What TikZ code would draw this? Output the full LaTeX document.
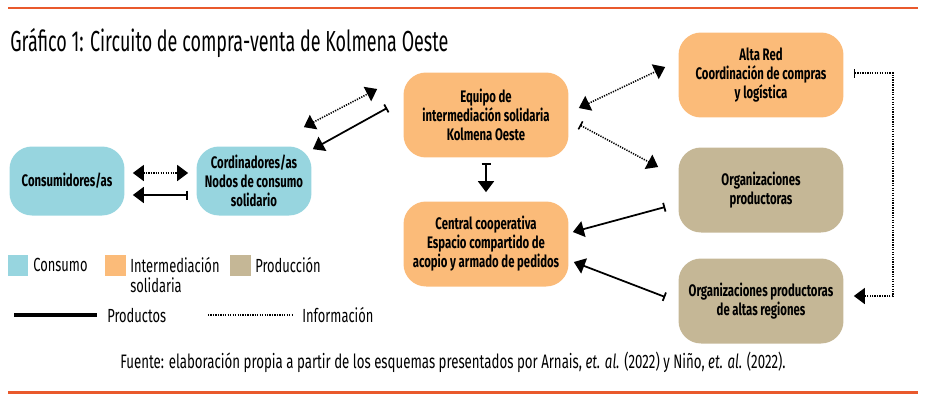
\documentclass[tikz,border=0pt]{standalone}
\usepackage{fontspec}
\setmainfont[FakeStretch=0.68]{Fira Sans}
\newfontfamily\titulofont[FakeStretch=0.62]{Fira Sans}
\usetikzlibrary{positioning,arrows.meta}

\definecolor{consumo}{HTML}{97D5DF}
\definecolor{intermed}{HTML}{FBBB79}
\definecolor{produc}{HTML}{C5B796}
\definecolor{raya}{HTML}{E9592C}

\tikzset{
	caja/.style={rounded corners=4.5mm,align=center,inner sep=2pt,
		font=\fontsize{9.5}{10.8}\selectfont\bfseries},
	chica/.style={caja,minimum width=2.3cm,minimum height=1.38cm},
	grande/.style={caja,minimum width=3.3cm,minimum height=1.7cm},
	punta/.tip={Triangle[length=2.2mm,width=3.2mm]},
	tope/.tip={Bar[width=1.8mm]},
	prod/.style={line width=1pt},
	info/.style={line width=0.9pt,dash pattern=on 0.7pt off 0.7pt},
	leyenda/.style={anchor=west,inner sep=0pt,font=\fontsize{10.8}{11.3}\selectfont},
}

\begin{document}
\begin{tikzpicture}[x=0.02cm,y=-0.02cm]
	\useasboundingbox (0,0) rectangle (926,400);

	\draw[raya,line width=1.7pt]	(8,8)	--	(918,8);
	\draw[raya,line width=1.7pt]	(8,392)	--	(918,392);

	\node[anchor=west,inner sep=0pt,font=\titulofont\fontsize{16.5}{18}\selectfont]	(titulo)	at (10,43)	{Gráfico 1: Circuito de compra-venta de Kolmena Oeste};

	\node[chica,fill=consumo]	(cons)		at (67,181)		{Consumidores/as};
	\node[chica,fill=consumo]	(cord)		at (254,181)	{Cordinadores/as\\Nodos de consumo\\solidario};
	\node[grande,fill=intermed]	(equipo)	at (486,115)	{Equipo de\\intermediación solidaria\\Kolmena Oeste};
	\node[grande,fill=intermed]	(central)	at (486,244)	{Central cooperativa\\Espacio compartido de\\acopio y armado de pedidos};
	\node[grande,fill=intermed]	(alta)		at (761,75)		{Alta Red\\Coordinación de compras\\y logística};
	\node[grande,fill=produc]	(org)		at (761,190)	{Organizaciones\\productoras};
	\node[grande,fill=produc]	(altas)		at (761,301)	{Organizaciones productoras\\de altas regiones};

	% consumo
	\draw[info,punta-punta]	([shift={(8,-8)}]cons.east)		--	([shift={(-8,-8)}]cord.west);
	\draw[prod,tope-punta]	([shift={(-8,14)}]cord.west)	--	([shift={(8,14)}]cons.east);

	% intermediacion
	\draw[info,punta-punta]	([shift={(-8,-19)}]cord.north east)	--	([shift={(-26,-26)}]equipo.west);
	\draw[prod,tope-punta]	([shift={(-16,-7)}]equipo.west)		--	([shift={(1,3)}]cord.north east);
	\draw[info,punta-punta]	([shift={(10,-7)}]equipo.east)		--	([shift={(-13,-8)}]alta.west);
	\draw[info,tope-punta]	([shift={(11,10)}]equipo.east)		--	([shift={(-20,-23)}]org.west);
	\draw[prod,tope-punta]	([shift={(0,5)}]equipo.south)		--	([shift={(0,-9)}]central.north);

	% produccion
	\draw[prod,tope-punta]	([shift={(-13,17)}]org.west)	--	([shift={(4,-12)}]central.east);
	\draw[prod,tope-punta]	([shift={(-13,-4)}]altas.west)	--	([shift={(5,18)}]central.east);
	\draw[info,tope-punta]	([shift={(10,-2)}]alta.east)	--	++(39,0)	|-	([shift={(10,-5)}]altas.east);

	% leyenda
	\fill[consumo]	(8,255)		rectangle	(28,276);
	\fill[intermed]	(105,255)	rectangle	(126,276);
	\fill[produc]	(230,255)	rectangle	(251,276);
	\node[leyenda]				(lcons)		at (33,265)		{Consumo};
	\node[leyenda,anchor=north west,align=left]	(linter)	at (130,257)	{Intermediación\\solidaria};
	\node[leyenda]				(lprod)		at (255,265)	{Producción};
	\draw[line width=2.2pt]		(14,315)	--	(97,315);
	\draw[info]					(208,315)	--	(293,315);
	\node[leyenda]				(lproductos)	at (107,315)	{Productos};
	\node[leyenda]				(linfo)		at (302,315)	{Información};

	\node[font=\fontsize{11.1}{13}\selectfont,inner sep=0pt]	(fuente)	at (453,362)
		{Fuente: elaboración propia a partir de los esquemas presentados por Arnais, \textit{et. al.} (2022) y Niño, \textit{et. al.} (2022).};
\end{tikzpicture}
\end{document}
